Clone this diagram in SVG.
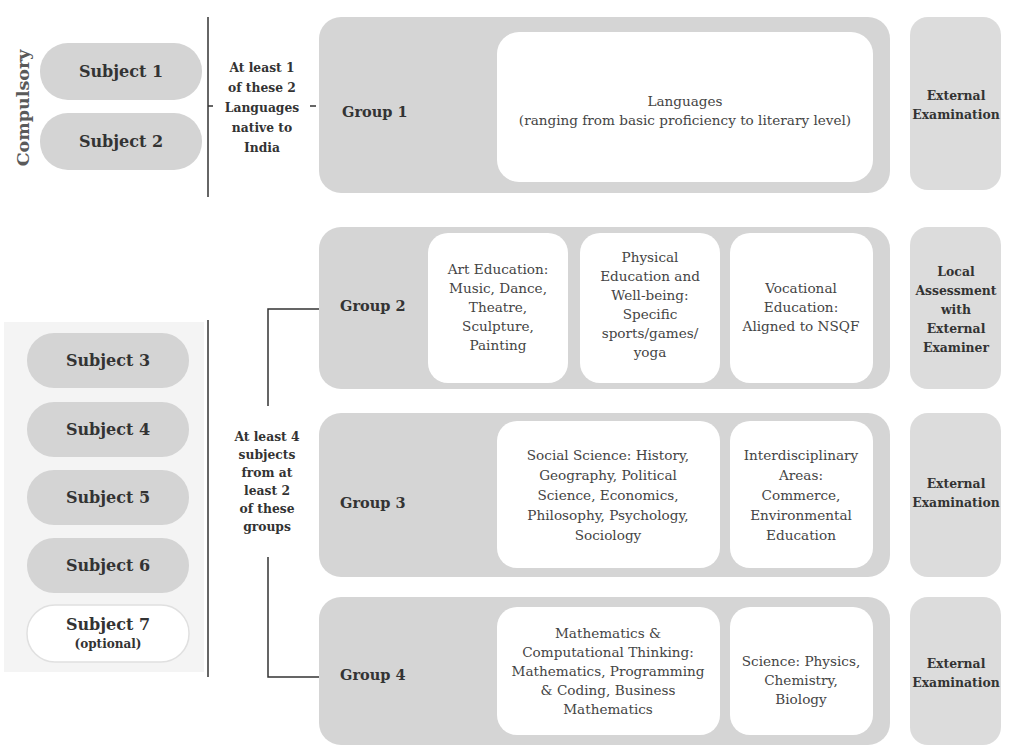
<svg xmlns="http://www.w3.org/2000/svg" width="1015" height="745" viewBox="0 0 1015 745">
<style>
.bg{fill:#ffffff}
.grp{fill:#d5d5d5}
.ext{fill:#dcdcdc}
.pill{fill:#d4d4d4}
.card{fill:#ffffff}
.b{font-family:"DejaVu Serif","Liberation Serif",serif;font-weight:bold;fill:#333}
.r{font-family:"DejaVu Serif","Liberation Serif",serif;fill:#444;font-size:13.6px}
.line{stroke:#333;stroke-width:1.5;fill:none}
</style>
<rect class="bg" x="0" y="0" width="1015" height="745"/>
<rect x="4" y="322" width="200" height="350" fill="#f4f4f4"/>
<text class="b" font-size="17.5" transform="translate(29,108) rotate(-90)" text-anchor="middle" style="fill:#5a5a5a">Compulsory</text>

<g id="subject1"><rect class="pill" x="40" y="43" width="162" height="57" rx="28"/><text class="b" font-size="16" x="121" y="77" text-anchor="middle">Subject 1</text></g>
<g id="subject2"><rect class="pill" x="40" y="113" width="162" height="57" rx="28"/><text class="b" font-size="16" x="121" y="147" text-anchor="middle">Subject 2</text></g>
<g id="subject3"><rect class="pill" x="27" y="333" width="162" height="55" rx="27"/><text class="b" font-size="16" x="108" y="366" text-anchor="middle">Subject 3</text></g>
<g id="subject4"><rect class="pill" x="27" y="402" width="162" height="55" rx="27"/><text class="b" font-size="16" x="108" y="435" text-anchor="middle">Subject 4</text></g>
<g id="subject5"><rect class="pill" x="27" y="470" width="162" height="55" rx="27"/><text class="b" font-size="16" x="108" y="503" text-anchor="middle">Subject 5</text></g>
<g id="subject6"><rect class="pill" x="27" y="538" width="162" height="55" rx="27"/><text class="b" font-size="16" x="108" y="571" text-anchor="middle">Subject 6</text></g>
<g id="subject7"><rect x="27" y="605" width="162" height="57" rx="28" fill="#fff" stroke="#e0e0e0" stroke-width="1.5"/><text class="b" font-size="16" x="108" y="630" text-anchor="middle">Subject 7</text><text class="b" font-size="12" x="108" y="648" text-anchor="middle">(optional)</text></g>

<g id="connectors">
<path class="line" d="M208,17 V197"/>
<path class="line" d="M208,106 H213"/>
<path class="line" d="M310,106 H316"/>
<path class="line" d="M208,320 V677"/>
<path class="line" d="M320,309 H268 V406"/>
<path class="line" d="M268,557 V677 H320"/>
</g>

<g id="rule1"><text class="b" font-size="12.3" text-anchor="middle">
<tspan x="262" y="72">At least 1</tspan><tspan x="262" y="92">of these 2</tspan><tspan x="262" y="112">Languages</tspan><tspan x="262" y="132">native to</tspan><tspan x="262" y="152">India</tspan></text></g>
<g id="rule2"><text class="b" font-size="12.3" text-anchor="middle">
<tspan x="267" y="441">At least 4</tspan><tspan x="267" y="459">subjects</tspan><tspan x="267" y="477">from at</tspan><tspan x="267" y="495">least 2</tspan><tspan x="267" y="513">of these</tspan><tspan x="267" y="531">groups</tspan></text></g>

<g id="group1"><rect class="grp" x="319" y="17" width="571" height="176" rx="22"/>
<text class="b" font-size="14.5" x="342" y="117">Group 1</text>
<rect class="card" x="497" y="32" width="376" height="150" rx="22"/>
<text class="r" text-anchor="middle"><tspan x="685" y="106">Languages</tspan><tspan x="685" y="125">(ranging from basic proficiency to literary level)</tspan></text></g>
<g id="exam1"><rect class="ext" x="910" y="17" width="91" height="173" rx="18"/><text class="b" font-size="12.4" text-anchor="middle"><tspan x="956" y="100">External</tspan><tspan x="956" y="119">Examination</tspan></text></g>

<g id="group2"><rect class="grp" x="319" y="227" width="571" height="162" rx="22"/>
<text class="b" font-size="14.5" x="340" y="311">Group 2</text>
<rect class="card" x="428" y="233" width="140" height="150" rx="20"/>
<text class="r" text-anchor="middle"><tspan x="498" y="274">Art Education:</tspan><tspan x="498" y="293">Music, Dance,</tspan><tspan x="498" y="312">Theatre,</tspan><tspan x="498" y="331">Sculpture,</tspan><tspan x="498" y="350">Painting</tspan></text>
<rect class="card" x="580" y="233" width="140" height="150" rx="20"/>
<text class="r" text-anchor="middle"><tspan x="650" y="262">Physical</tspan><tspan x="650" y="281">Education and</tspan><tspan x="650" y="300">Well-being:</tspan><tspan x="650" y="319">Specific</tspan><tspan x="650" y="338">sports/games/</tspan><tspan x="650" y="357">yoga</tspan></text>
<rect class="card" x="730" y="233" width="143" height="150" rx="20"/>
<text class="r" text-anchor="middle"><tspan x="801" y="293">Vocational</tspan><tspan x="801" y="312">Education:</tspan><tspan x="801" y="331">Aligned to NSQF</tspan></text></g>
<g id="exam2"><rect class="ext" x="910" y="227" width="91" height="162" rx="18"/><text class="b" font-size="12.4" text-anchor="middle"><tspan x="956" y="276">Local</tspan><tspan x="956" y="295">Assessment</tspan><tspan x="956" y="314">with</tspan><tspan x="956" y="333">External</tspan><tspan x="956" y="352">Examiner</tspan></text></g>

<g id="group3"><rect class="grp" x="319" y="413" width="571" height="164" rx="22"/>
<text class="b" font-size="14.5" x="340" y="508">Group 3</text>
<rect class="card" x="497" y="421" width="223" height="147" rx="20"/>
<text class="r" text-anchor="middle"><tspan x="608" y="460">Social Science: History,</tspan><tspan x="608" y="480">Geography, Political</tspan><tspan x="608" y="500">Science, Economics,</tspan><tspan x="608" y="520">Philosophy, Psychology,</tspan><tspan x="608" y="540">Sociology</tspan></text>
<rect class="card" x="730" y="421" width="143" height="147" rx="20"/>
<text class="r" text-anchor="middle"><tspan x="801" y="460">Interdisciplinary</tspan><tspan x="801" y="480">Areas:</tspan><tspan x="801" y="500">Commerce,</tspan><tspan x="801" y="520">Environmental</tspan><tspan x="801" y="540">Education</tspan></text></g>
<g id="exam3"><rect class="ext" x="910" y="413" width="91" height="164" rx="18"/><text class="b" font-size="12.4" text-anchor="middle"><tspan x="956" y="488">External</tspan><tspan x="956" y="507">Examination</tspan></text></g>

<g id="group4"><rect class="grp" x="319" y="597" width="571" height="148" rx="22"/>
<text class="b" font-size="14.5" x="340" y="680">Group 4</text>
<rect class="card" x="497" y="607" width="223" height="128" rx="20"/>
<text class="r" text-anchor="middle"><tspan x="608" y="638">Mathematics &amp;</tspan><tspan x="608" y="657">Computational Thinking:</tspan><tspan x="608" y="676">Mathematics, Programming</tspan><tspan x="608" y="695">&amp; Coding, Business</tspan><tspan x="608" y="714">Mathematics</tspan></text>
<rect class="card" x="730" y="607" width="143" height="128" rx="20"/>
<text class="r" text-anchor="middle"><tspan x="801" y="666">Science: Physics,</tspan><tspan x="801" y="685">Chemistry,</tspan><tspan x="801" y="704">Biology</tspan></text></g>
<g id="exam4"><rect class="ext" x="910" y="597" width="91" height="148" rx="18"/><text class="b" font-size="12.4" text-anchor="middle"><tspan x="956" y="668">External</tspan><tspan x="956" y="687">Examination</tspan></text></g>
</svg>
